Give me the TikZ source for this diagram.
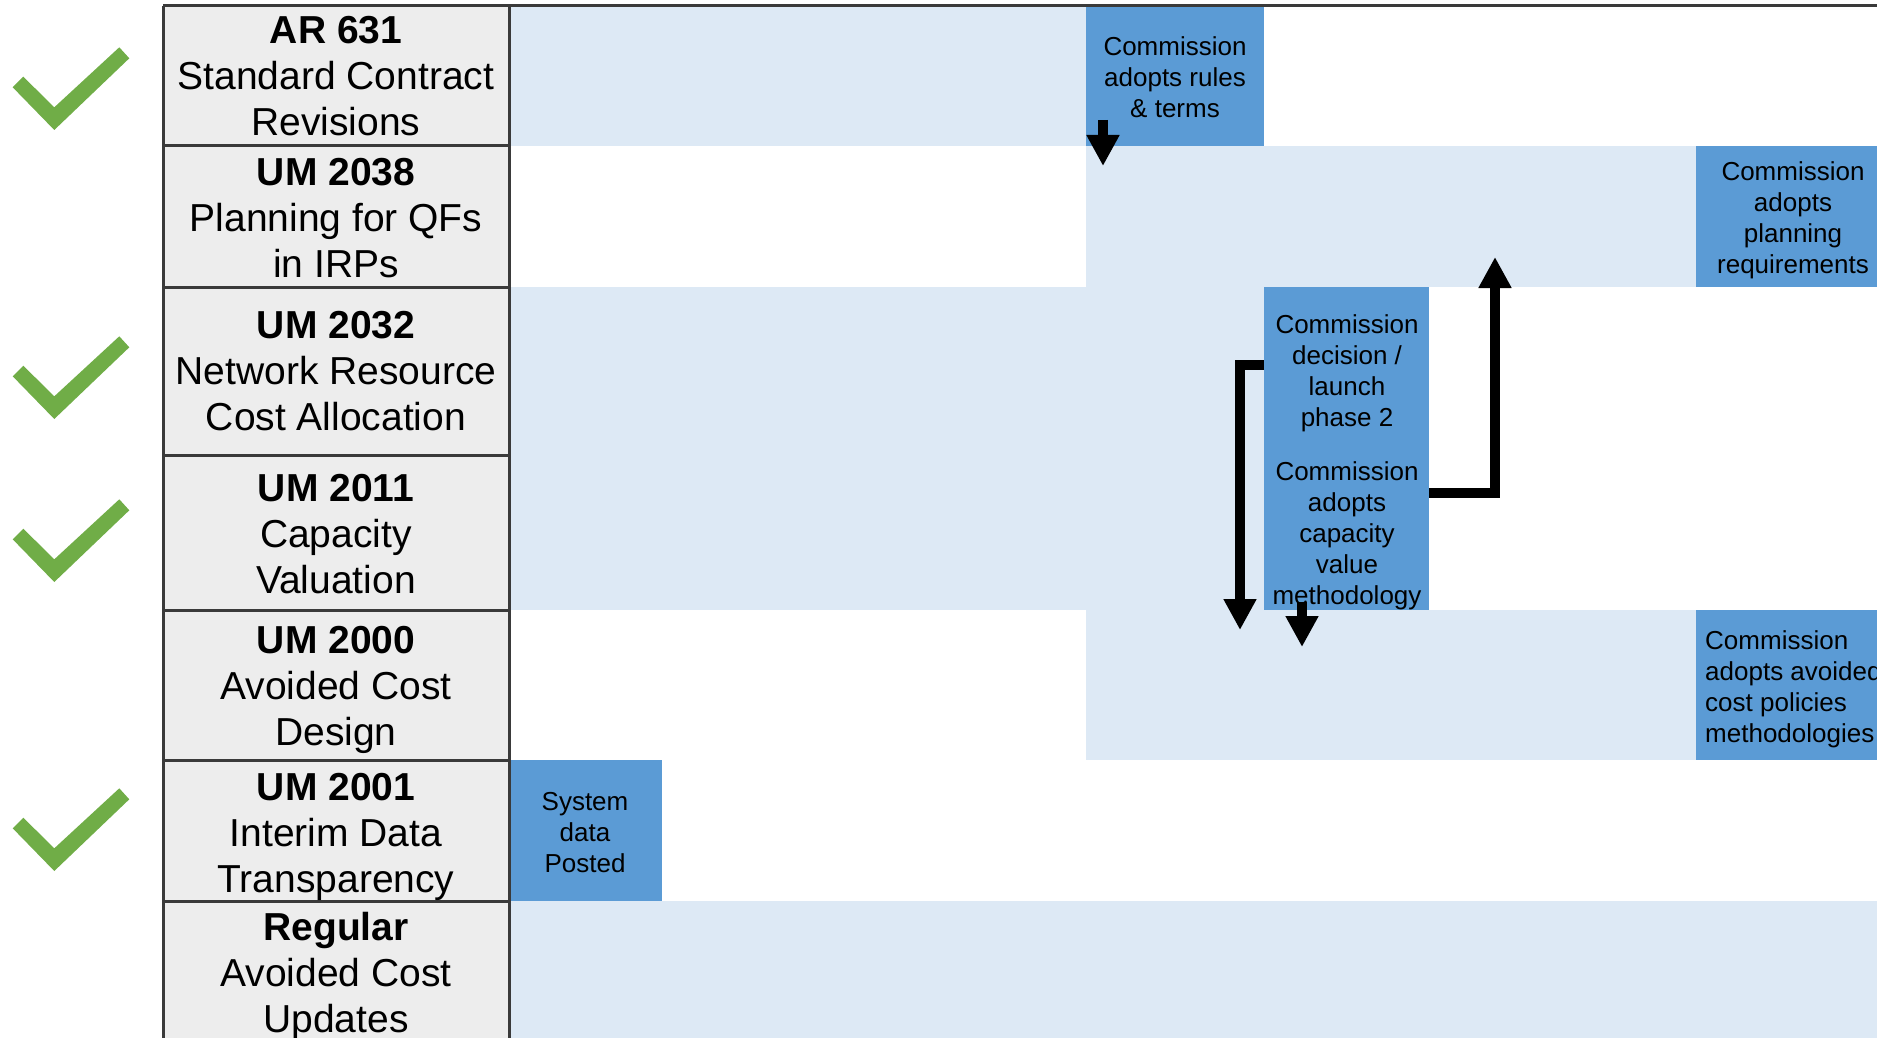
\documentclass[tikz,border=0pt]{standalone}
\usepackage{fontspec}
\setmainfont{Liberation Sans}
\usetikzlibrary{arrows.meta}
\definecolor{lightband}{HTML}{DDE9F5}
\definecolor{darkbox}{HTML}{5B9BD5}
\definecolor{labelfill}{HTML}{EDEDED}
\definecolor{gridline}{HTML}{3A3A3A}
\definecolor{checkgreen}{HTML}{70AD47}
\begin{document}
\begin{tikzpicture}[x=1pt,y=-1pt,
  band/.style={fill=lightband,draw=none},
  dbox/.style={fill=darkbox,draw=none,inner sep=0pt,outer sep=0pt,anchor=north west},
  lbl/.style={align=center,font=\fontsize{39}{46}\selectfont,inner sep=0pt},
  btxt/.style={align=center,font=\fontsize{26}{31}\selectfont,inner sep=0pt},
  arr/.style={line width=10pt,-{Triangle[width=31pt,length=31pt]}},
  grid/.style={draw=gridline,line width=3pt},
  chk/.style={fill=checkgreen,draw=none}]
\useasboundingbox (0,0) rectangle (1877,1038);
\begin{scope}
\clip (0,0) rectangle (1877,1038);
% light bands
\fill[band] (509,6) rectangle (1086,146);
\fill[band] (1086,146) rectangle (1696,287);
\fill[band] (509,287) rectangle (1264,610);
\fill[band] (1086,610) rectangle (1696,760);
\fill[band] (509,901) rectangle (1877,1038);
% dark boxes
\node[dbox,minimum width=178pt,minimum height=140pt] (boxA) at (1086,6) {};
\node[dbox,minimum width=200pt,minimum height=141pt] (boxB) at (1696,146) {};
\node[dbox,minimum width=165pt,minimum height=323pt] (boxC) at (1264,287) {};
\node[dbox,minimum width=200pt,minimum height=150pt] (boxD) at (1696,610) {};
\node[dbox,minimum width=153pt,minimum height=141pt] (boxE) at (509,760) {};
% box texts
\node[btxt] (tA) at (1175,77) {Commission\\adopts rules\\\& terms};
\node[btxt] (tB) at (1793,220.5) {Commission\\adopts\\planning\\requirements};
\node[btxt] (tC1) at (1347,373.5) {Commission\\decision /\\launch\\phase 2};
\node[btxt] (tC2) at (1347,535.5) {Commission\\adopts\\capacity\\value\\methodology};
\node[btxt,align=left,anchor=west] (tD) at (1705,689.5) {Commission\\adopts avoided\\cost policies\\methodologies};
\node[btxt] (tE) at (585,833) {System\\data\\Posted};
% label column
\fill[labelfill] (163,6) rectangle (509,1038);
\draw[grid] (163,6) -- (1877,6);
\draw[grid] (163,6) -- (163,1038);
\draw[grid] (509,6) -- (509,1038);
\foreach \yy in {146,287,455,610,760,901} {\draw[grid] (163,\yy) -- (509,\yy);}
\node[lbl] (L1) at (336,76.5) {\textbf{AR 631}\\Standard Contract\\Revisions};
\node[lbl] (L2) at (336,218) {\textbf{UM 2038}\\Planning for QFs\\in IRPs};
\node[lbl] (L3) at (336,371.5) {\textbf{UM 2032}\\Network Resource\\Cost Allocation};
\node[lbl] (L4) at (336,534) {\textbf{UM 2011}\\Capacity\\Valuation};
\node[lbl] (L5) at (336,690) {\textbf{UM 2000}\\Avoided Cost\\Design};
\node[lbl] (L6) at (336,836.5) {\textbf{UM 2001}\\Interim Data\\Transparency};
\node[lbl] (L7) at (336,976) {\textbf{Regular}\\Avoided Cost\\Updates};
% check marks
\foreach \dy in {0,289,452,741} {
  \begin{scope}[shift={(0,\dy)}]
  \fill[chk] (12.7,87.3) -- (23.3,76.7) -- (54.3,107.3) -- (119.3,47.3) -- (129.3,58.3) -- (54.3,130) -- cycle;
  \end{scope}
}
% arrows
\coordinate (a1s) at (1103,120);
\coordinate (a1e) at (1103,166);
\draw[arr] (a1s) -- (a1e);
\coordinate (a2s) at (1429,493);
\coordinate (a2e) at (1495,257);
\draw[arr] (a2s) -| (a2e);
\coordinate (a3s) at (1264,365);
\coordinate (a3e) at (1240,630);
\draw[arr] (a3s) -| (a3e);
\coordinate (a4s) at (1302,602);
\coordinate (a4e) at (1302,647);
\draw[arr] (a4s) -- (a4e);
\end{scope}
\end{tikzpicture}
\end{document}
